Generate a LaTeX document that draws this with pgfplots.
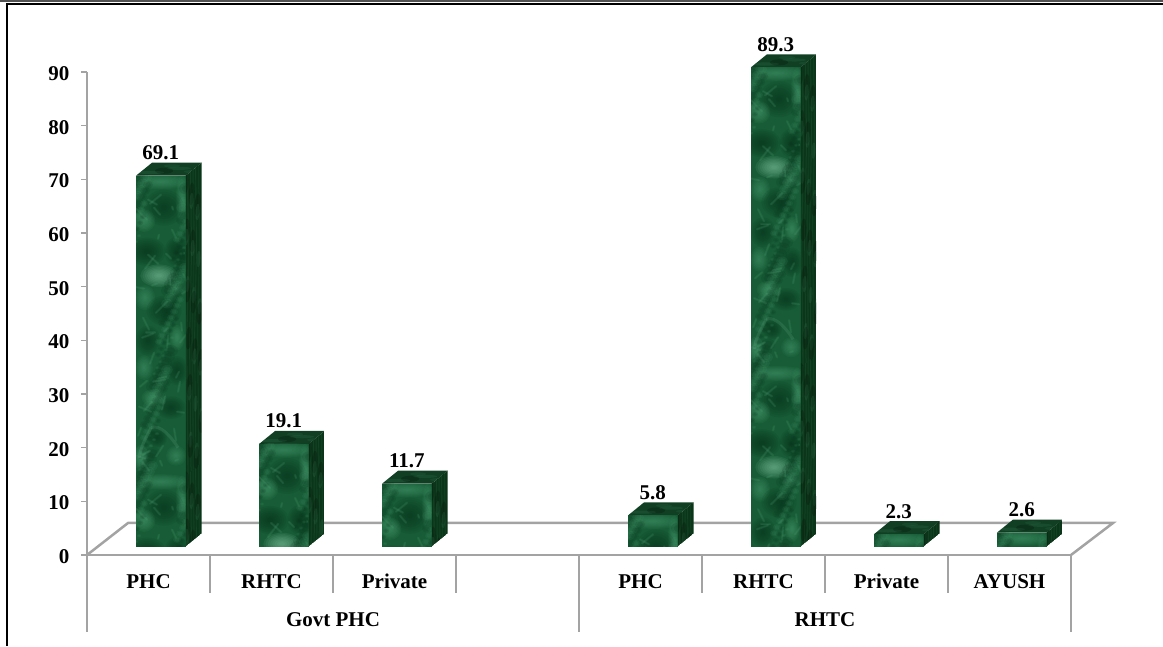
\documentclass[border=0pt]{standalone}
\usepackage{fontspec}
\setmainfont{Liberation Serif}
\usepackage{pgfplots}
\pgfplotsset{compat=1.18}
\definecolor{axisgray}{HTML}{A3A3A3}
\definecolor{mbase}{HTML}{175C36}
\definecolor{mdark}{HTML}{06301A}
\definecolor{mlight}{HTML}{4A9C70}
\definecolor{mbright}{HTML}{84C8A4}
\definecolor{sbase}{HTML}{0B3519}
\definecolor{tbase}{HTML}{103F24}

% soft blotch: concentric translucent ellipses
\newcommand\blob[5][.12]{%
  \foreach \s in {1,.88,.76,.64,.52,.4,.28,.16}{%
    \fill[#5,fill opacity=#1] (#2,#3) ellipse ({#4*\s*1.25} and {#4*\s*1.25*\blobratio});}}
\def\blobratio{1}

% one 50 x 300 marble tile, origin top left, v running downwards
\newcommand\bl[6]{\def\blobratio{#5}\blob[#1]{#2}{#3}{#4}{#6}}
\newcommand\marbletile{%
  \bl{.09}{25}{6}{24}{.25}{mlight}%
  \bl{.09}{46}{25}{5}{4}{mlight}%
  \bl{.1}{28}{32}{16}{.9}{mdark}%
  \bl{.1}{8}{45}{9}{1}{mlight}%
  \bl{.11}{11}{76}{15}{.75}{mdark}%
  \bl{.11}{41}{76}{10}{1.2}{mdark}%
  \bl{.1}{23}{100}{15}{.6}{mbright}%
  \bl{.09}{40}{112}{8}{.75}{mlight}%
  \bl{.09}{9}{122}{8}{1.25}{mlight}%
  \bl{.1}{28}{135}{14}{.85}{mdark}%
  \bl{.1}{41}{162}{6}{1.7}{mlight}%
  \bl{.1}{12}{165}{10}{1.2}{mdark}%
  \bl{.09}{8}{192}{7}{1.4}{mlight}%
  \bl{.1}{41}{195}{9}{1.3}{mdark}%
  \bl{.1}{18}{222}{10}{.7}{mlight}%
  \bl{.1}{35}{232}{12}{.75}{mdark}%
  \bl{.1}{21}{262}{8}{1}{mdark}%
  \bl{.12}{5}{282}{6}{1.7}{mlight}%
  \bl{.09}{40}{280}{8}{1}{mlight}%
  \foreach \i in {1,...,130}{%
    \pgfmathsetmacro\px{mod(\i*37,51)}%
    \pgfmathsetmacro\py{mod(\i*83,300)}%
    \pgfmathsetmacro\pr{2+mod(\i*7,6)}%
    \pgfmathtruncatemacro\pk{mod(\i,2)}%
    \ifnum\pk=0
      \fill[mlight,fill opacity=.12] (\px,\py) ellipse ({\pr} and {\pr*.8});
      \fill[mlight,fill opacity=.12] (\px,\py) ellipse ({\pr*.6} and {\pr*.5});
    \else
      \fill[mdark,fill opacity=.14] (\px,\py) ellipse ({\pr} and {\pr*.8});
      \fill[mdark,fill opacity=.14] (\px,\py) ellipse ({\pr*.6} and {\pr*.5});
    \fi}%
  \foreach \i in {1,...,44}{%
    \pgfmathsetmacro\px{mod(\i*23,51)}%
    \pgfmathsetmacro\py{mod(\i*59,300)}%
    \pgfmathsetmacro\du{mod(\i*11,25)-12}%
    \pgfmathsetmacro\dv{mod(\i*17,27)-13}%
    \draw[mlight,draw opacity=.16,line width=2.4pt,line cap=round]
      (\px,\py) -- +(\du,\dv);
    \draw[mbright,draw opacity=.07,line width=1pt,line cap=round]
      (\px,\py) -- +(\du,\dv);}%
  \draw[mbright,draw opacity=.14,line width=3pt] (15,252) .. controls (10,262) and (5,270) .. (3,282);%
  \draw[mbright,draw opacity=.14,line width=3pt] (15,252) .. controls (24,248) and (36,262) .. (42,272);%
}

% darker, streaky tile for the right-hand faces
\newcommand\sidetile{%
  \foreach \f/\w/\o in {2/1.4/.1,5/1/.12,7.5/1.6/.08,10/.9/.12,13/1.2/.08}{%
    \draw[mlight,draw opacity=\o,line width=\w pt] (\f,0) -- (\f+1,80) -- (\f-1,170) -- (\f+.5,300);}%
  \foreach \i in {1,...,30}{%
    \pgfmathsetmacro\px{mod(\i*7,17)}%
    \pgfmathsetmacro\py{mod(\i*71,300)}%
    \pgfmathtruncatemacro\pk{mod(\i,2)}%
    \ifnum\pk=0
      \fill[mlight,fill opacity=.14] (\px,\py) ellipse (2 and 8);
    \else
      \fill[black,fill opacity=.18] (\px,\py) ellipse (3 and 11);
    \fi}%
}

% places one data bar: id, category position, value
\newcommand\marblebar[3]{%
  \addplot[ybar,bar width=49.5pt,bar shift=0pt,fill=mbase,draw=none,yshift=8.5pt,
    nodes near coords,
    every node near coord/.append style={anchor=base,yshift=16pt,text=black,
      font=\fontsize{21}{24}\selectfont\bfseries,
      /pgf/number format/fixed,/pgf/number format/fixed zerofill,
      /pgf/number format/precision=1,/pgf/number format/assume math mode=true}]
    coordinates {(#2,#3)};
  \coordinate (t#1) at (axis cs:#2,#3);
  \coordinate (b#1) at (axis cs:#2,0);
}

% paints the three marble faces of a bar; second argument: tile offsets
\newcommand\paintbar[2]{%
  \path ([xshift=-24.75pt,yshift=8.5pt]t#1) coordinate (TL)
        ([xshift=24.75pt,yshift=8.5pt]t#1) coordinate (TR)
        ([xshift=-24.75pt,yshift=8.5pt]b#1) coordinate (BL)
        ([xshift=24.75pt,yshift=8.5pt]b#1) coordinate (BR);
  % top face
  \begin{scope}
    \clip (TL) -- (TR) -- ([shift={(16pt,13pt)}]TR) -- ([shift={(16pt,13pt)}]TL) -- cycle;
    \fill[tbase] (TL) -- (TR) -- ([shift={(16pt,13pt)}]TR) -- ([shift={(16pt,13pt)}]TL) -- cycle;
    \begin{scope}[shift={(TL)},x={(1pt,0pt)},y={(1pt,.8125pt)}]
      \foreach \a/\b/\c/\o in {10/4/14/.16,34/9/12/.14,52/5/9/.12,24/12/8/.12}{%
        \fill[mlight,fill opacity=\o] (\a,\b) ellipse (\c pt and 1.6pt);}
      \fill[black,fill opacity=.2] (22,6) ellipse (9pt and 3pt);
    \end{scope}
  \end{scope}
  % right face
  \begin{scope}
    \clip (TR) -- ([shift={(16pt,13pt)}]TR) -- ([shift={(16pt,13pt)}]BR) -- (BR) -- cycle;
    \fill[sbase] (TR) -- ([shift={(16pt,13pt)}]TR) -- ([shift={(16pt,13pt)}]BR) -- (BR) -- cycle;
    \foreach \rep in {#2}{%
      \begin{scope}[shift={(TR)},yshift=-\rep pt,x={(1pt,.8125pt)},y={(0pt,-1pt)}]
        \sidetile
      \end{scope}}
  \end{scope}
  % front face
  \begin{scope}
    \clip (TL) -- (TR) -- (BR) -- (BL) -- cycle;
    \fill[mbase] (TL) -- (TR) -- (BR) -- (BL) -- cycle;
    \foreach \rep in {#2}{%
      \begin{scope}[shift={(TL)},yshift=-\rep pt,x=1pt,y=-1pt]
        \marbletile
      \end{scope}}
  \end{scope}
}

\begin{document}
\begin{tikzpicture}[x=1pt,y=1pt]
\path[use as bounding box] (0,0) rectangle (1163,646);
% page rules
\fill[black!68] (0,644) rectangle (1163,646);
\fill[black] (5.8,640.6) rectangle (1163,642.6);
\fill[black] (5.8,0) rectangle (8.2,642.6);

\begin{axis}[
  at={(87pt,91pt)},anchor=south west,
  scale only axis,width=984pt,height=483pt,
  xmin=0,xmax=8,ymin=0,ymax=90,
  axis x line*=bottom,axis y line*=left,
  axis line style={axisgray,line width=2.5pt},
  clip=false,
  ytick={0,10,...,90},
  xtick={0.5,1.5,...,7.5},
  xticklabels={PHC,RHTC,Private,,PHC,RHTC,Private,AYUSH},
  major tick length=6pt,
  tick align=outside,
  tick style={axisgray,line width=1.6pt},
  x tick style={draw=none},
  tick label style={font=\fontsize{21}{24}\selectfont\bfseries,text=black},
  /pgf/number format/assume math mode=true,
  yticklabel style={xshift=-8pt,yshift=-1.5pt},
  xticklabel style={anchor=base,yshift=-27pt},
]
% floor of the chart box
\draw[axisgray,line width=2.5pt,line join=miter]
  (axis cs:0,0) -- ++(41pt,32pt) -- ++(985pt,0pt) -- (axis cs:8,0);
% category separators
\pgfplotsinvokeforeach{1,2,3,5,6,7}{\draw[axisgray,line width=2pt] (axis cs:#1,0) -- ++(0pt,-38pt);}
\pgfplotsinvokeforeach{0,4,8}{\draw[axisgray,line width=2pt] (axis cs:#1,0) -- ++(0pt,-77pt);}
% group labels
\node[anchor=base,font=\fontsize{21}{24}\selectfont\bfseries] at ([yshift=-71pt]axis cs:2,0) {Govt PHC};
\node[anchor=base,font=\fontsize{21}{24}\selectfont\bfseries] at ([yshift=-71pt]axis cs:6,0) {RHTC};
% data
\marblebar{1}{0.6}{69.1}
\marblebar{2}{1.6}{19.1}
\marblebar{3}{2.6}{11.7}
\marblebar{4}{4.6}{5.8}
\marblebar{5}{5.6}{89.3}
\marblebar{6}{6.6}{2.3}
\marblebar{7}{7.6}{2.6}
\end{axis}

\paintbar{1}{0,300}
\paintbar{2}{0}
\paintbar{3}{0}
\paintbar{4}{0}
\paintbar{5}{0,300}
\paintbar{6}{0}
\paintbar{7}{0}
\end{tikzpicture}
\end{document}
